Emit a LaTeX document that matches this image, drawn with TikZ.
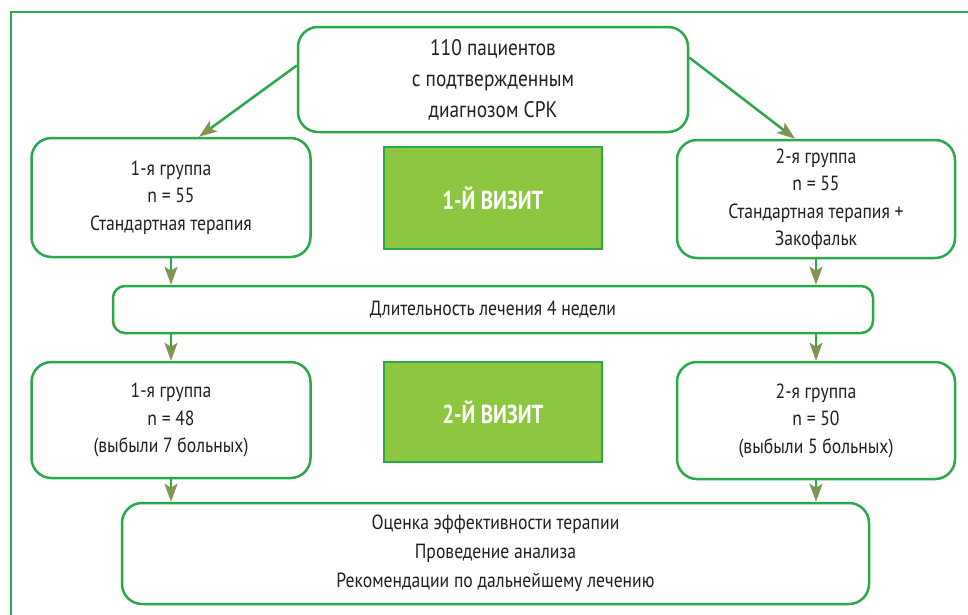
\documentclass[tikz,border=0pt]{standalone}
\usepackage{fontspec}
\setmainfont[FakeStretch=0.86]{PT Sans}
\newfontfamily\visitfont[FakeStretch=0.8]{PT Sans}
\usetikzlibrary{arrows.meta}
\definecolor{lgreen}{HTML}{2AA84A}
\definecolor{vfill}{HTML}{8DC63F}
\definecolor{arrc}{HTML}{7F9550}
\definecolor{txt}{HTML}{231F20}
\begin{document}
\begin{tikzpicture}[x=1pt,y=-1pt,
 box/.style={draw=lgreen, line width=2.5pt, rounded corners=20pt, fill=white, align=center, text=txt, font=\fontsize{20.5}{27.5}\selectfont, inner sep=0pt},
 visit/.style={draw=lgreen, line width=2pt, fill=vfill, text=white, font=\visitfont\fontsize{26}{30}\selectfont\bfseries, inner sep=0pt},
 arr/.style={draw=lgreen, line width=2.5pt, -{Stealth[length=18pt,width=13pt,inset=4pt,color=arrc]}}]
\useasboundingbox (0,0) rectangle (968,614);
\fill[white] (0,0) rectangle (968,614);
\draw[lgreen, line width=2.5pt] (11,620) -- (11,12) -- (975,12);

\node[box, minimum width=390pt, minimum height=105pt, font=\fontsize{22.5}{31}\selectfont] (top) at (493,79.5) {110 пациентов\\с подтвержденным\\диагнозом СРК};
\node[box, minimum width=279pt, minimum height=119pt] (g1) at (171,197.5) {1-я группа\\n = 55\\Стандартная терапия};
\node[box, minimum width=278pt, minimum height=118pt] (g2) at (816,199) {2-я группа\\n = 55\\Стандартная терапия +\\Закофальк};
\node[visit, minimum width=218pt, minimum height=102pt] (v1) at (493,198) {1-Й ВИЗИТ};
\node[box, rounded corners=12pt, minimum width=760pt, minimum height=47pt] (dur) at (493,309.5) {Длительность лечения 4 недели};
\node[box, minimum width=279pt, minimum height=116pt] (g3) at (171,420) {1-я группа\\n = 48\\(выбыли 7 больных)};
\node[visit, minimum width=218pt, minimum height=100pt] (v2) at (493,412) {2-Й ВИЗИТ};
\node[box, minimum width=278pt, minimum height=117pt] (g4) at (816,420.5) {2-я группа\\n = 50\\(выбыли 5 больных)};
\node[box, minimum width=747pt, minimum height=101pt, font=\fontsize{20.5}{29}\selectfont] (bot) at (495.5,553.5) {Оценка эффективности терапии\\Проведение анализа\\Рекомендации по дальнейшему лечению};

\draw[arr] ([yshift=14pt]top.west) -- ([xshift=28pt]g1.north);
\draw[arr] ([yshift=22pt]top.east) -- ([xshift=-21pt]g2.north);
\draw[arr] (g1.south) -- (g1.south |- dur.north);
\draw[arr] (g2.south) -- (g2.south |- dur.north);
\draw[arr] (g1.south |- dur.south) -- (g3.north);
\draw[arr] (g2.south |- dur.south) -- (g4.north);
\draw[arr] (g3.south) -- (g3.south |- bot.north);
\draw[arr] (g4.south) -- (g4.south |- bot.north);
\end{tikzpicture}
\end{document}
